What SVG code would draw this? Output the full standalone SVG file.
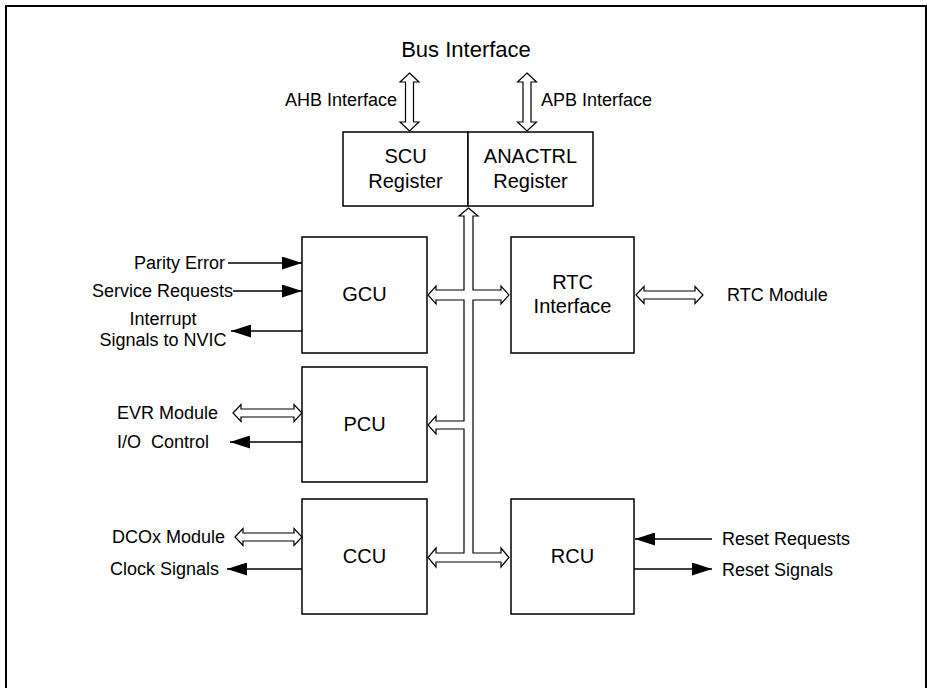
<svg xmlns="http://www.w3.org/2000/svg" width="927" height="688" viewBox="0 0 927 688">
<style>
.t{font-family:"Liberation Sans",Arial,sans-serif;font-size:18px;fill:#000;white-space:pre}
.b{font-size:20px}
.box{fill:#fff;stroke:#000;stroke-width:1.5}
.dbl{fill:#fff;stroke:#000;stroke-width:1.2;stroke-linejoin:miter}
.sig{fill:none;stroke:#000;stroke-width:1.5}
</style>
<defs>
<marker id="ah" viewBox="0 0 20 13" refX="20" refY="6.5" markerWidth="20" markerHeight="13" markerUnits="userSpaceOnUse" orient="auto">
<path d="M0,0 L20,6.5 L0,13 Z" fill="#000"/>
</marker>
</defs>
<rect x="6" y="6" width="920" height="720" fill="#fff" stroke="#000" stroke-width="2"/>
<text class="t" x="466" y="57" text-anchor="middle" style="font-size:22px">Bus Interface</text>
<text class="t" x="397" y="106" text-anchor="end">AHB Interface</text>
<text class="t" x="541" y="106">APB Interface</text>
<g id="scu">
<rect class="box" x="343" y="132" width="125" height="74"/>
<text class="t b" x="405.5" y="163" text-anchor="middle">SCU</text>
<text class="t b" x="405.5" y="188" text-anchor="middle">Register</text>
</g>
<g id="anactrl">
<rect class="box" x="468" y="132" width="125" height="74"/>
<text class="t b" x="530.5" y="163" text-anchor="middle">ANACTRL</text>
<text class="t b" x="530.5" y="188" text-anchor="middle">Register</text>
</g>
<g id="gcu">
<rect class="box" x="302" y="237" width="125" height="116"/>
<text class="t b" x="364.5" y="301" text-anchor="middle">GCU</text>
</g>
<g id="rtc">
<rect class="box" x="511" y="237" width="123" height="116"/>
<text class="t b" x="572.5" y="289" text-anchor="middle">RTC</text>
<text class="t b" x="572.5" y="313" text-anchor="middle">Interface</text>
</g>
<g id="pcu">
<rect class="box" x="302" y="367" width="125" height="115"/>
<text class="t b" x="364.5" y="431" text-anchor="middle">PCU</text>
</g>
<g id="ccu">
<rect class="box" x="302" y="499" width="125" height="115"/>
<text class="t b" x="364.5" y="563" text-anchor="middle">CCU</text>
</g>
<g id="rcu">
<rect class="box" x="511" y="499" width="123" height="115"/>
<text class="t b" x="572.5" y="563" text-anchor="middle">RCU</text>
</g>
<g id="labels">
<text class="t" x="225" y="269" text-anchor="end">Parity Error</text>
<text class="t" x="233" y="297" text-anchor="end">Service Requests</text>
<text class="t" x="163" y="325" text-anchor="middle">Interrupt</text>
<text class="t" x="163" y="346" text-anchor="middle">Signals to NVIC</text>
<text class="t" x="727" y="301">RTC Module</text>
<text class="t" x="117" y="419">EVR Module</text>
<text class="t" x="117" y="448">I/O  Control</text>
<text class="t" x="112" y="543">DCOx Module</text>
<text class="t" x="110" y="575">Clock Signals</text>
<text class="t" x="722" y="545">Reset Requests</text>
<text class="t" x="722" y="576">Reset Signals</text>
</g>
<g id="connectors">
<path class="dbl" d="M409.5,73 L419,82 L413.5,82 L413.5,122 L419,122 L409.5,131 L400,122 L405.5,122 L405.5,82 L400,82 Z"/>
<path class="dbl" d="M527,73 L536.5,82 L531,82 L531,122 L536.5,122 L527,131 L517.5,122 L523,122 L523,82 L517.5,82 Z"/>
<path class="dbl" d="M468.5,208 L478,216 L473,216 L473,290 L501,290 L501,286 L509,295 L501,304 L501,300 L473,300 L473,553 L501,553 L501,548 L509,557.5 L501,567 L501,562 L436,562 L436,567 L428,557.5 L436,548 L436,553 L464,553 L464,429 L436,429 L436,434 L428,425 L436,416 L436,421 L464,421 L464,300 L436,300 L436,304 L428,295 L436,286 L436,290 L464,290 L464,216 L459,216 Z"/>
<path class="dbl" d="M636,295 L644,286.5 L644,291 L695,291 L695,286.5 L703,295 L695,303.5 L695,299 L644,299 L644,303.5 Z"/>
<path class="dbl" d="M233,413 L241,404.5 L241,409 L294,409 L294,404.5 L302,413 L294,421.5 L294,417 L241,417 L241,421.5 Z"/>
<path class="dbl" d="M235,537 L243,528.5 L243,533 L294,533 L294,528.5 L302,537 L294,545.5 L294,541 L243,541 L243,545.5 Z"/>
<path class="sig" d="M228,263 H302" marker-end="url(#ah)"/>
<path class="sig" d="M233,291 H302" marker-end="url(#ah)"/>
<path class="sig" d="M302,331 H231" marker-end="url(#ah)"/>
<path class="sig" d="M302,442 H230" marker-end="url(#ah)"/>
<path class="sig" d="M302,569 H227" marker-end="url(#ah)"/>
<path class="sig" d="M712,539 H635" marker-end="url(#ah)"/>
<path class="sig" d="M634,569 H712" marker-end="url(#ah)"/>
</g>
</svg>
